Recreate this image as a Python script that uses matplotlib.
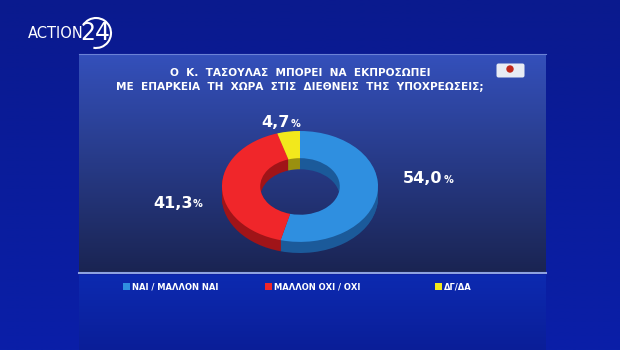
import numpy as np
import matplotlib.pyplot as plt
from matplotlib.patches import Arc, FancyBboxPatch, Circle
from matplotlib.colors import to_rgb

plt.rcParams['font.family'] = ['DejaVu Sans']

# data
categories = ["ΝΑΙ / ΜΑΛΛΟΝ ΝΑΙ", "ΜΑΛΛΟΝ ΟΧΙ / ΟΧΙ", "ΔΓ/ΔΑ"]
values = [54.0, 41.3, 4.7]
value_labels = ["54,0", "41,3", "4,7"]
title = "Ο  Κ.  ΤΑΣΟΥΛΑΣ  ΜΠΟΡΕΙ  ΝΑ  ΕΚΠΡΟΣΩΠΕΙ\nΜΕ  ΕΠΑΡΚΕΙΑ  ΤΗ  ΧΩΡΑ  ΣΤΙΣ  ΔΙΕΘΝΕΙΣ  ΤΗΣ  ΥΠΟΧΡΕΩΣΕΙΣ;"

top_colors = ["#2f8fe0", "#f0262a", "#f2e81c"]
wall_colors = ["#1b5a9a", "#a01418", "#9a9010"]
# layout: label positions in pie data units, legend entry x in pixels
label_xy = [(1.67, 0.15), (-1.54, -0.30), (-0.29, 1.16)]
legend_x = [123, 265, 435]

W, H = 620, 350
fig = plt.figure(figsize=(6.2, 3.5), dpi=100)

# background
bg = fig.add_axes([0, 0, 1, 1])
bg.set_xlim(0, W)
bg.set_ylim(H, 0)
bg.axis("off")

def grad(c1, c2, n=200):
    a = np.array(to_rgb(c1))
    b = np.array(to_rgb(c2))
    t = np.linspace(0, 1, n)[:, None]
    g = a * (1 - t) + b * t
    return g[:, None, :]

bg.imshow(grad("#0a1a8e", "#0a1fa8"), extent=(0, W, H, 0), aspect="auto", zorder=0)
# lighter strip under panel
bg.imshow(grad("#0d2ab0", "#0a1e98"), extent=(79, 546, H, 275), aspect="auto", zorder=1)
# panel
bg.imshow(grad("#3450bb", "#1a2452"), extent=(79, 546, 273, 54), aspect="auto", zorder=1)
bg.plot([79, 546], [273, 273], color="#8ea2e0", lw=1.5, zorder=2)
bg.plot([79, 546], [54, 54], color="#6b82d6", lw=0.8, zorder=2)

# logo
bg.text(28, 33, "ACTION", color="white", fontsize=10.5, va="center", ha="left", zorder=3)
bg.text(95, 33, "24", color="white", fontsize=17, va="center", ha="center", zorder=3)
bg.add_patch(Arc((96, 33), 30, 30, theta1=-150, theta2=100, color="white", lw=1.5, zorder=3))

# pollster badge
bg.add_patch(FancyBboxPatch((497, 64), 27, 13, boxstyle="round,pad=0.5,rounding_size=2",
                            fc="#e8ecf4", ec="none", zorder=3))
bg.add_patch(Circle((510, 69), 3, color="#c0281c", zorder=4))

bg.text(300, 80, title, color="white", fontsize=7.6, fontweight="bold", ha="center",
        va="center", linespacing=1.45, zorder=3)

# donut
ax = fig.add_axes([222 / W, 1 - 253 / H, 156 / W, 122 / H])
depth = 0.2
for d in np.linspace(depth, 0.01, 14):
    ax.pie(values, colors=wall_colors, startangle=90, counterclock=False, center=(0, -d),
           wedgeprops=dict(width=0.49, edgecolor="none", linewidth=0))
wedges, _ = ax.pie(values, colors=top_colors, startangle=90, counterclock=False,
                   wedgeprops=dict(width=0.49, edgecolor="none", linewidth=0))
ax.set_aspect("auto")
ax.set_xlim(-1, 1)
ax.set_ylim(-1 - depth, 1)
ax.axis("off")

for (x, y), lab in zip(label_xy, value_labels):
    ax.annotate(lab, xy=(x, y), xytext=(9, 0), textcoords="offset points", ha="right",
                va="center", color="white", fontsize=11.5, fontweight="bold",
                annotation_clip=False)
    ax.annotate("%", xy=(x, y), xytext=(9.5, -1), textcoords="offset points", ha="left",
                va="center", color="white", fontsize=7, fontweight="bold",
                annotation_clip=False)

for w, cat, lx in zip(wedges, categories, legend_x):
    fig.legend([w], [cat], loc="center left", bbox_to_anchor=(lx / W, 1 - 287 / H),
               frameon=False, prop=dict(weight="bold", size=6), labelcolor="white",
               handlelength=0.8, handleheight=0.8, handletextpad=0.3, borderpad=0,
               borderaxespad=0)

fig.savefig("out.png", dpi=100)
